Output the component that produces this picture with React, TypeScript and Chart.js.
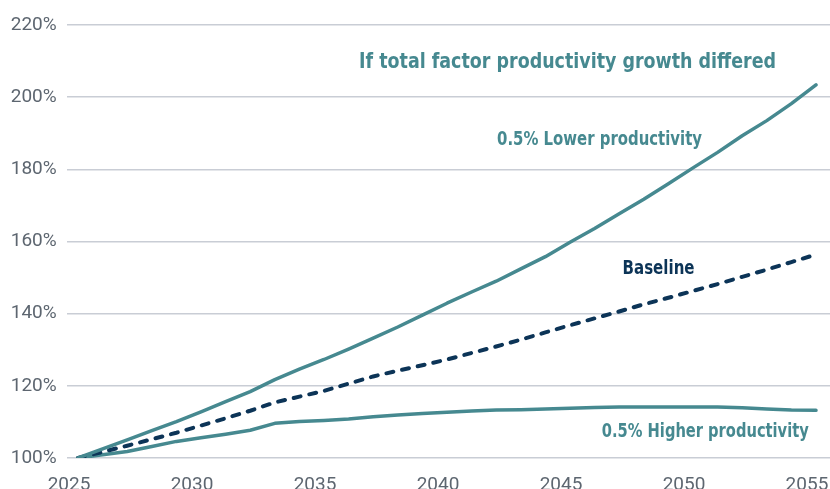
import React, { useEffect, useRef } from "react";
import { Chart, registerables } from "chart.js";

Chart.register(...registerables);

// ---- Data ----
const years = [
  2025, 2026, 2027, 2028, 2029, 2030, 2031, 2032, 2033, 2034, 2035, 2036, 2037, 2038, 2039, 2040,
  2041, 2042, 2043, 2044, 2045, 2046, 2047, 2048, 2049, 2050, 2051, 2052, 2053, 2054, 2055,
];

const lowerProductivity = [
  100, 102.5, 105.0, 107.6, 110.1, 112.8, 115.6, 118.4, 121.7, 124.6, 127.3, 130.2, 133.2, 136.3,
  139.6, 142.9, 146.0, 149.0, 152.4, 155.8, 159.8, 163.6, 167.7, 171.7, 176.0, 180.4, 184.7, 189.3,
  193.5, 198.2, 203.4,
];

const baseline = [
  100, 101.7, 103.4, 105.2, 107.0, 109.0, 111.0, 113.1, 115.4, 117.0, 118.6, 120.6, 122.6, 124.2,
  125.7, 127.3, 129.1, 130.9, 132.8, 134.8, 136.8, 138.7, 140.6, 142.6, 144.4, 146.3, 148.2, 150.2,
  152.2, 154.3, 156.4,
];

const higherProductivity = [
  100, 100.9, 101.8, 103.2, 104.6, 105.6, 106.6, 107.7, 109.6, 110.1, 110.4, 110.8, 111.4, 111.9,
  112.3, 112.7, 113.0, 113.3, 113.4, 113.6, 113.8, 114.0, 114.1, 114.1, 114.1, 114.1, 114.1, 113.9,
  113.6, 113.3, 113.2,
];

const xTickYears = [2025, 2030, 2035, 2040, 2045, 2050, 2055];
const yTickValues = [100, 120, 140, 160, 180, 200, 220];

const titleText = "If total factor productivity growth differed";
const lowerLabel = "0.5% Lower productivity";
const baselineLabel = "Baseline";
const higherLabel = "0.5% Higher productivity";

// ---- Styles ----
const TEAL = "#468990";
const NAVY = "#0c3457";
const GRID = "#c9cdd5";
const TICK = "#5d6670";
const TICK_FONT = "Roboto, 'Liberation Sans', sans-serif";
const ANNOT_FONT = "'Liberation Sans Narrow', 'DejaVu Sans Condensed', 'Roboto', sans-serif";

const annotationPlugin = {
  id: "annotations",
  afterDraw(chart: any) {
    const { ctx } = chart;
    const x = chart.scales.x;
    const y = chart.scales.y;
    const items = [
      { text: titleText, xv: 2044.9, yv: 209.6, color: TEAL, size: 22, w: 417 },
      { text: lowerLabel, xv: 2046.2, yv: 188.0, color: TEAL, size: 19, w: 205 },
      { text: baselineLabel, xv: 2048.6, yv: 152.3, color: NAVY, size: 19, w: 72 },
      { text: higherLabel, xv: 2050.5, yv: 107.3, color: TEAL, size: 19, w: 207 },
    ];
    ctx.save();
    ctx.textAlign = "center";
    ctx.textBaseline = "middle";
    for (const it of items) {
      ctx.font = `bold ${it.size}px ${ANNOT_FONT}`;
      ctx.fillStyle = it.color;
      const px = x.getPixelForValue(it.xv);
      const py = y.getPixelForValue(it.yv);
      const measured = ctx.measureText(it.text).width;
      const sx = measured > 0 ? it.w / measured : 1;
      ctx.save();
      ctx.translate(px, py);
      ctx.scale(sx, 1);
      ctx.fillText(it.text, 0, 0);
      ctx.restore();
    }
    ctx.restore();
  },
};

export default function App() {
  const ref = useRef<HTMLCanvasElement | null>(null);

  useEffect(() => {
    if (!ref.current) return;
    const chart = new Chart(ref.current, {
      type: "line",
      data: {
        datasets: [
          {
            label: lowerLabel,
            data: years.map((yr, i) => ({ x: yr, y: lowerProductivity[i] })),
            borderColor: TEAL,
            borderWidth: 3.5,
            pointRadius: 0,
            tension: 0,
            borderCapStyle: "round",
            borderJoinStyle: "round",
          },
          {
            label: baselineLabel,
            data: years.map((yr, i) => ({ x: yr, y: baseline[i] })),
            borderColor: NAVY,
            borderWidth: 4,
            borderDash: [7, 9],
            borderCapStyle: "round",
            pointRadius: 0,
            tension: 0,
          },
          {
            label: higherLabel,
            data: years.map((yr, i) => ({ x: yr, y: higherProductivity[i] })),
            borderColor: TEAL,
            borderWidth: 3.5,
            pointRadius: 0,
            tension: 0,
            borderCapStyle: "round",
            borderJoinStyle: "round",
          },
        ],
      },
      options: {
        animation: false,
        responsive: false,
        layout: { padding: { top: 25, right: 0, left: 0, bottom: 0 } },
        plugins: {
          legend: { display: false },
          tooltip: { enabled: false },
        },
        scales: {
          x: {
            type: "linear",
            min: 2024.54,
            max: 2055.57,
            afterBuildTicks: (scale: any) => {
              scale.ticks = xTickYears.map((v) => ({ value: v }));
            },
            afterFit: (scale: any) => {
              scale.height = 31;
              scale.paddingLeft = 0;
              scale.paddingRight = 0;
            },
            grid: { display: false, drawTicks: false },
            border: { display: false },
            ticks: {
              color: TICK,
              font: { family: TICK_FONT, size: 19 },
              padding: 16,
              labelOffset: -9,
              maxRotation: 0,
              autoSkip: false,
              callback: (v: any) => String(v),
            },
          },
          y: {
            type: "linear",
            min: 100,
            max: 220,
            afterBuildTicks: (scale: any) => {
              scale.ticks = yTickValues.map((v) => ({ value: v }));
            },
            afterFit: (scale: any) => {
              scale.width = 66.7;
              scale.paddingTop = 0;
              scale.paddingBottom = 0;
            },
            grid: { color: GRID, lineWidth: 1.5, drawTicks: false },
            border: { display: false },
            ticks: {
              color: TICK,
              font: { family: TICK_FONT, size: 19 },
              padding: 10,
              callback: (v: any) => `${v}%`,
            },
          },
        },
      },
      plugins: [annotationPlugin],
    } as any);
    return () => chart.destroy();
  }, []);

  return (
    <div style={{ position: "absolute", left: 0, top: 0, width: 830, height: 489 }}>
      <canvas ref={ref} width={830} height={489} style={{ display: "block" }} />
    </div>
  );
}
